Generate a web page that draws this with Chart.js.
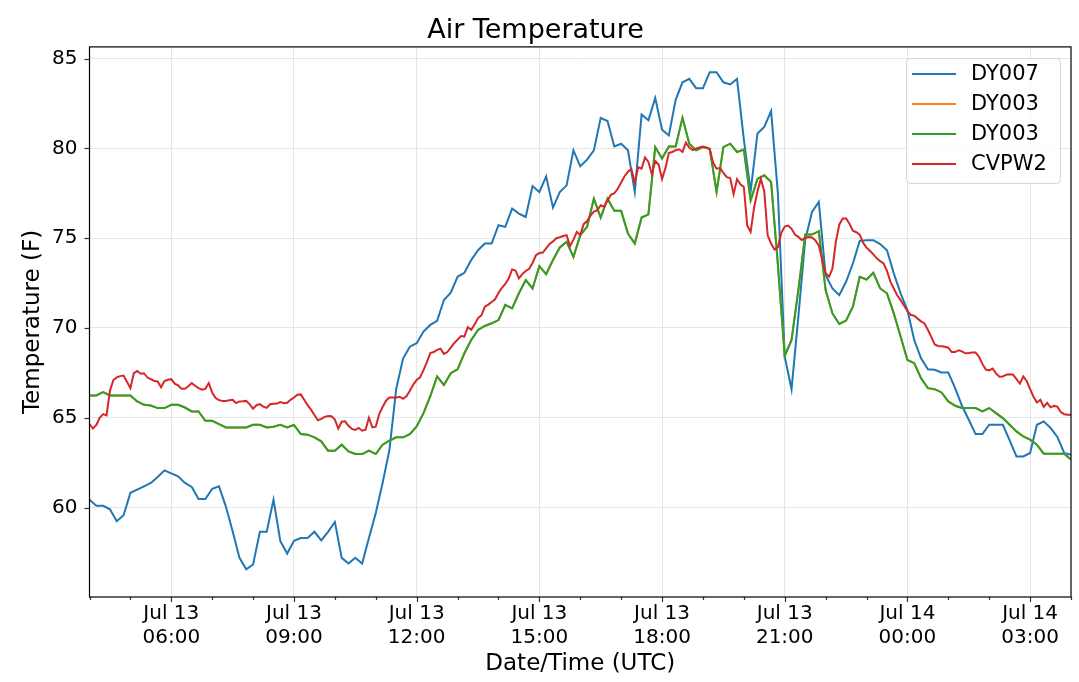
<!DOCTYPE html>
<html>
<head>
<meta charset="utf-8">
<title>Air Temperature</title>
<script src="https://cdn.jsdelivr.net/npm/chart.js@4.4.1/dist/chart.umd.min.js"></script>
<style>
    html, body { margin: 0; padding: 0; background: #ffffff; }
    #wrap { width: 1079px; height: 682px; }
</style>
</head>
<body>
<div id="wrap"><canvas id="tempChart" width="1079" height="682"></canvas></div>
<script>
// Station names as they appear in the legend
const stationNames = ["DY007", "DY003", "DY003", "CVPW2"];
const stationColors = ["#1f77b4", "#ff7f0e", "#2ca02c", "#d62728"];

// Hours since Jul 13 00:00 UTC shown on the x axis
const firstHour = 4;
const lastHour = 28;
const xTickHours = [6, 9, 12, 15, 18, 21, 24, 27];
const yTickValues = [60, 65, 70, 75, 80, 85];

// DY007 air temperature (F), 10 minute samples from 04:00
const dy007Temp = [
    60.44, 60.1, 60.1, 59.9, 59.24, 59.57, 60.82, 61.0, 61.18, 61.37,
    61.7, 62.07, 61.9, 61.74, 61.37, 61.15, 60.48, 60.48, 61.04, 61.18,
    60.07, 58.68, 57.2, 56.56, 56.83, 58.65, 58.65, 60.44, 58.13, 57.44,
    58.15, 58.3, 58.3, 58.65, 58.17, 58.65, 59.2, 57.2, 56.89, 57.2,
    56.89, 58.3, 59.7, 61.37, 63.2, 66.6, 68.3, 68.96, 69.15, 69.8,
    70.17, 70.4, 71.56, 71.96, 72.85, 73.07, 73.78, 74.33, 74.7, 74.7,
    75.72, 75.63, 76.65, 76.37, 76.18, 77.9, 77.57, 78.44, 76.7, 77.57,
    77.94, 79.89, 79.0, 79.37, 79.89, 81.7, 81.52, 80.11, 80.26, 79.89,
    77.57, 81.89, 81.56, 82.81, 81.04, 80.72, 82.7, 83.68, 83.87, 83.35,
    83.35, 84.24, 84.24, 83.68, 83.56, 83.87, 80.5, 77.6, 80.83, 81.19,
    82.07, 77.48, 68.41, 66.59, 70.63, 74.89, 76.46, 77.02, 72.94, 72.2,
    71.83, 72.57, 73.59, 74.85, 74.89, 74.89, 74.67, 74.33, 73.04, 71.93,
    71.0, 69.33, 68.31, 67.7, 67.67, 67.52, 67.52, 66.65, 65.67, 64.89,
    64.09, 64.09, 64.61, 64.61, 64.61, 63.74, 62.85, 62.85, 63.04, 64.61,
    64.8, 64.43, 63.93, 63.04, 62.94
];

// DY003 air temperature (F), 10 minute samples from 04:00
const dy003Temp = [
    66.24, 66.24, 66.43, 66.24, 66.24, 66.24, 66.24, 65.91, 65.72, 65.68,
    65.54, 65.54, 65.72, 65.72, 65.57, 65.35, 65.35, 64.83, 64.83, 64.65,
    64.46, 64.46, 64.46, 64.46, 64.61, 64.61, 64.46, 64.5, 64.61, 64.46,
    64.6, 64.09, 64.06, 63.91, 63.69, 63.17, 63.17, 63.5, 63.13, 62.98,
    62.98, 63.17, 62.98, 63.5, 63.72, 63.91, 63.91, 64.09, 64.52, 65.26,
    66.2, 67.3, 66.83, 67.48, 67.7, 68.59, 69.33, 69.89, 70.11, 70.26,
    70.44, 71.28, 71.09, 71.93, 72.67, 72.2, 73.44, 73.0, 73.78, 74.48,
    74.8, 73.96, 75.17, 75.63, 77.2, 76.15, 77.2, 76.52, 76.52, 75.26,
    74.7, 76.15, 76.33, 80.07, 79.43, 80.11, 80.11, 81.7, 80.26, 79.89,
    80.07, 79.98, 77.57, 80.07, 80.26, 79.8, 79.93, 77.1, 78.3, 78.5,
    78.13, 73.5, 68.44, 69.33, 72.11, 75.2, 75.2, 75.39, 72.11, 70.81,
    70.22, 70.41, 71.18, 72.85, 72.7, 73.07, 72.2, 71.93, 70.81, 69.52,
    68.22, 68.04, 67.2, 66.65, 66.59, 66.41, 65.91, 65.67, 65.54, 65.54,
    65.54, 65.35, 65.54, 65.26, 64.98, 64.61, 64.24, 63.96, 63.78, 63.5,
    63.0, 63.0, 63.0, 63.0, 62.67
];

// CVPW2 air temperature (F), 5 minute samples from 04:00
const cvpw2Temp = [
    64.65, 64.4, 64.6, 65.0, 65.2, 65.13, 66.5, 67.1, 67.25, 67.32,
    67.35, 67.0, 66.65, 67.48, 67.6, 67.45, 67.48, 67.24, 67.15, 67.05,
    67.02, 66.7, 67.05, 67.12, 67.15, 66.9, 66.8, 66.61, 66.61, 66.75,
    66.93, 66.78, 66.65, 66.56, 66.61, 66.93, 66.4, 66.1, 65.98, 65.94,
    65.94, 65.97, 66.0, 65.82, 65.91, 65.92, 65.94, 65.75, 65.5, 65.7,
    65.76, 65.62, 65.55,
    65.75, 65.78, 65.8, 65.87, 65.81, 65.83, 66.0, 66.13, 66.28, 66.3,
    66.0, 65.7, 65.45, 65.15, 64.86, 64.94, 65.05, 65.1, 65.08, 64.9,
    64.4, 64.78, 64.8, 64.55, 64.38, 64.32, 64.43, 64.28, 64.33, 65.0,
    64.46, 64.5, 65.2, 65.6, 65.95, 66.13, 66.13, 66.13, 66.17, 66.06,
    66.2, 66.5, 66.85, 67.1, 67.25,
    67.65, 68.1, 68.6, 68.66, 68.78, 68.85, 68.56, 68.66, 68.9, 69.15,
    69.35, 69.55, 69.52, 70.05, 69.9, 70.2, 70.55, 70.7, 71.18, 71.3,
    71.45, 71.6, 71.95, 72.23, 72.45, 72.75, 73.26, 73.2, 72.76, 73.0,
    73.17, 73.3, 73.62, 74.05, 74.17, 74.2, 74.43, 74.68, 74.82, 75.0,
    75.05, 75.12, 75.17, 74.56, 74.92, 75.35, 75.17, 75.78, 75.95, 76.25,
    76.48, 76.55, 76.83, 76.75, 77.1, 77.42, 77.5, 77.75, 78.1, 78.45,
    78.7, 78.85, 78.1, 78.95, 78.87, 79.5, 79.25, 78.55, 79.3, 79.1,
    78.3, 78.9, 79.75, 79.8, 79.9, 79.95, 79.8, 80.32, 80.05, 79.9,
    80.0, 80.05, 80.1, 80.05, 79.95, 79.2, 78.87, 78.9, 78.64, 78.4,
    78.35, 77.45, 78.28, 78.0, 77.85, 75.7, 75.35, 76.7, 77.6, 78.3,
    77.6, 75.15, 74.7, 74.37, 74.5, 75.3, 75.65, 75.7, 75.52, 75.2,
    75.07, 74.9, 75.0, 75.06, 75.04, 74.88, 74.6, 73.8, 73.05, 72.85,
    73.3, 74.8, 75.75, 76.1, 76.1, 75.8, 75.42, 75.33, 75.2, 74.74,
    74.47, 74.3, 74.1, 73.88, 73.72, 73.6, 73.18, 72.58, 72.2, 71.82,
    71.55, 71.25, 70.93, 70.72, 70.68, 70.52, 70.37, 70.25, 69.9, 69.5,
    69.08, 69.0, 68.98, 68.95, 68.9, 68.66, 68.66, 68.76, 68.7, 68.59,
    68.6, 68.63, 68.63, 68.4, 68.0, 67.68, 67.64, 67.74, 67.47, 67.28,
    67.3, 67.4, 67.42, 67.4, 67.15, 66.9, 67.3, 67.05, 66.6, 66.17,
    65.85, 66.0, 65.6, 65.83, 65.58, 65.66, 65.62, 65.32, 65.2, 65.17, 65.17
];

const FONT = "'DejaVu Sans', 'Liberation Sans', sans-serif";

// Pair every reading with its time in hours (sample step in minutes)
function toPoints(values, stepMinutes) {
    return values.map((v, i) => ({ x: firstHour + i * stepMinutes / 60, y: v }));
}

function tickLabel(hour) {
    // Two line label like "Jul 13" / "06:00"
    const day = hour < 24 ? "Jul 13" : "Jul 14";
    const hh = String(hour % 24).padStart(2, "0");
    return [day, hh + ":00"];
}

// Draws the axes box, the outward tick marks and the boxed legend
const framePlugin = {
    id: "frame",
    afterDraw(chart) {
        const ctx = chart.ctx;
        const area = chart.chartArea;
        const xs = chart.scales.x;
        const ys = chart.scales.y;
        ctx.save();

        ctx.strokeStyle = "#333333";
        ctx.lineWidth = 1.2;
        for (let h = firstHour; h <= lastHour; h++) {
            const px = Math.round(xs.getPixelForValue(h)) + 0.5;
            const len = xTickHours.includes(h) ? 5 : 3;
            ctx.beginPath();
            ctx.moveTo(px, area.bottom);
            ctx.lineTo(px, area.bottom + len);
            ctx.stroke();
        }
        yTickValues.forEach(v => {
            const py = Math.round(ys.getPixelForValue(v)) + 0.5;
            ctx.beginPath();
            ctx.moveTo(area.left, py);
            ctx.lineTo(area.left - 5, py);
            ctx.stroke();
        });

        ctx.strokeStyle = "#000000";
        ctx.lineWidth = 1.2;
        ctx.strokeRect(area.left, area.top, area.right - area.left, area.bottom - area.top);

        // legend box in the upper right corner
        const boxX = 906.5, boxY = 58.5, boxW = 154, boxH = 125;
        ctx.beginPath();
        ctx.roundRect(boxX, boxY, boxW, boxH, 4);
        ctx.fillStyle = "rgba(255,255,255,0.8)";
        ctx.fill();
        ctx.strokeStyle = "#d6d6d6";
        ctx.lineWidth = 1;
        ctx.stroke();

        ctx.font = "21px " + FONT;
        ctx.textBaseline = "middle";
        ctx.textAlign = "left";
        chart.data.datasets.forEach((ds, k) => {
            const rowY = 74 + k * 30;
            ctx.strokeStyle = ds.borderColor;
            ctx.lineWidth = 2;
            ctx.beginPath();
            ctx.moveTo(912, rowY);
            ctx.lineTo(956, rowY);
            ctx.stroke();
            ctx.fillStyle = "#000000";
            ctx.fillText(ds.label, 971, rowY + 1);
        });
        ctx.restore();
    }
};

function makeDataset(idx, points, order) {
    return {
        label: stationNames[idx],
        data: points,
        borderColor: stationColors[idx],
        backgroundColor: stationColors[idx],
        borderWidth: 2,
        pointRadius: 0,
        tension: 0,
        order: order
    };
}

function drawChart() {
    const ctx = document.getElementById("tempChart").getContext("2d");
    return new Chart(ctx, {
        type: "line",
        data: {
            datasets: [
                makeDataset(0, toPoints(dy007Temp, 10), 4),
                makeDataset(1, toPoints(dy003Temp, 10), 3),
                makeDataset(2, toPoints(dy003Temp, 10), 2),
                makeDataset(3, toPoints(cvpw2Temp, 5), 1)
            ]
        },
        options: {
            responsive: false,
            animation: false,
            devicePixelRatio: 1,
            layout: { padding: { left: 0, right: 8, top: 0, bottom: 0 } },
            plugins: {
                legend: { display: false },
                tooltip: { enabled: false },
                title: {
                    display: true,
                    text: "Air Temperature",
                    color: "#000000",
                    font: { family: FONT, size: 27, weight: "normal" },
                    padding: { top: 14.5, bottom: 0 }
                }
            },
            scales: {
                x: {
                    type: "linear",
                    min: firstHour,
                    max: lastHour,
                    afterBuildTicks: scale => {
                        scale.ticks = [];
                        for (let h = firstHour; h <= lastHour; h++) scale.ticks.push({ value: h });
                    },
                    afterFit: scale => { scale.height = 85; },
                    ticks: {
                        autoSkip: false,
                        maxRotation: 0,
                        padding: 5,
                        color: "#000000",
                        font: { family: FONT, size: 20 },
                        callback: value => xTickHours.includes(value) ? tickLabel(value) : ""
                    },
                    grid: {
                        drawTicks: false,
                        lineWidth: 1,
                        color: c => xTickHours.includes(c.tick.value) ? "#e6e6e6" : "rgba(0,0,0,0)"
                    },
                    border: { display: false },
                    title: {
                        display: true,
                        text: "Date/Time (UTC)",
                        color: "#000000",
                        font: { family: FONT, size: 23 },
                        padding: { top: 0, bottom: 4 }
                    }
                },
                y: {
                    min: 55.02,
                    max: 85.65,
                    afterBuildTicks: scale => {
                        scale.ticks = yTickValues.map(v => ({ value: v }));
                    },
                    afterFit: scale => { scale.width = 89.5; },
                    ticks: {
                        padding: 12,
                        color: "#000000",
                        font: { family: FONT, size: 20 }
                    },
                    grid: {
                        drawTicks: false,
                        lineWidth: 1,
                        color: "#e6e6e6"
                    },
                    border: { display: false },
                    title: {
                        display: true,
                        text: "Temperature (F)",
                        color: "#000000",
                        font: { family: FONT, size: 23 },
                        padding: { top: 19, bottom: 0 }
                    }
                }
            }
        },
        plugins: [framePlugin]
    });
}

let tempChart = drawChart();
</script>
</body>
</html>
